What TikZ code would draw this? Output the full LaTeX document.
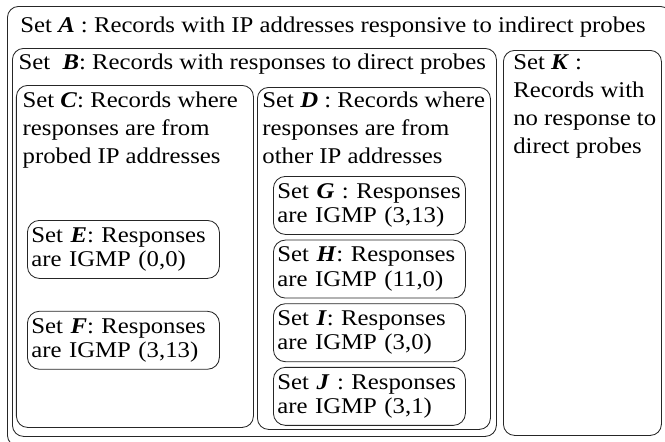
\documentclass[tikz,border=0pt]{standalone}
\usepackage{fontspec}
\setmainfont{Liberation Serif}[FakeStretch=1.1]
\usetikzlibrary{positioning, calc}

\newcommand{\setname}[1]{\textbf{\textit{#1}}}

\begin{document}
\begin{tikzpicture}[
    setbox/.style={draw=black!85, line width=0.6pt, rounded corners=0.28cm,
      anchor=north west, inner sep=0pt},
    subset/.style={setbox, rounded corners=0.3cm, minimum width=4.8cm,
      minimum height=1.45cm, text width=4.6cm, inner xsep=0.1cm, align=left,
      font=\fontsize{16}{17.4}\selectfont},
    title/.style={anchor=north west, inner sep=0pt, align=left,
      font=\fontsize{16}{19.9}\selectfont}]
  \useasboundingbox (0,0) rectangle (16.625,-11.025);

  % nested sets
  \node[setbox, minimum width=16.6cm, minimum height=11.0cm] (A) at (0.175,-0.15) {};
  \node[setbox, minimum width=12.1cm, minimum height=9.7cm] (B) at (0.3,-1.2) {};
  \node[setbox, minimum width=3.95cm, minimum height=9.625cm] (K) at (12.575,-1.25) {};
  \node[setbox, minimum width=5.925cm, minimum height=8.55cm] (C) at (0.4,-2.125) {};
  \node[setbox, minimum width=5.825cm, minimum height=8.55cm] (D) at (6.425,-2.175) {};

  % titles
  \node[title] (titleA) at ($(A.north west)+(0.33,-0.26)$)
    {Set \setname{A} : Records with IP addresses responsive to indirect probes};
  \node[title] (titleB) at ($(B.north west)+(0.16,-0.13)$)
    {Set~ \setname{B}: Records with responses to direct probes};
  \node[title] (titleK) at ($(K.north west)+(0.25,-0.10)$)
    {Set \setname{K} :\\Records with\\no response to\\direct probes};
  \node[title] (titleC) at ($(C.north west)+(0.16,-0.17)$)
    {Set \setname{C}: Records where\\responses are from\\probed IP addresses};
  \node[title] (titleD) at ($(D.north west)+(0.13,-0.12)$)
    {Set \setname{D} : Records where\\responses are from\\other IP addresses};

  % subsets of C
  \node[subset] (E) at (0.675,-5.5) {Set \setname{E}: Responses\\are IGMP (0,0)};
  \node[subset, below=0.8cm of E] (F) {Set \setname{F}: Responses\\are IGMP (3,13)};

  % subsets of D
  \node[subset] (G) at (6.825,-4.4) {Set \setname{G} : Responses\\are IGMP (3,13)};
  \node[subset, below=0.12cm of G] (H) {Set \setname{H}: Responses\\are IGMP (11,0)};
  \node[subset, below=0.12cm of H] (I) {Set \setname{I}: Responses\\are IGMP (3,0)};
  \node[subset, below=0.12cm of I] (J) {Set \setname{J} : Responses\\are IGMP (3,1)};
\end{tikzpicture}
\end{document}
